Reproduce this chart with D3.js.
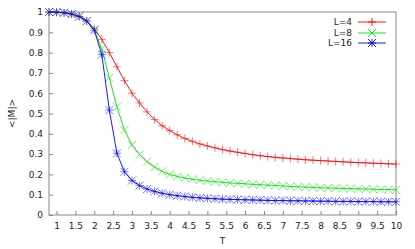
<!DOCTYPE html>
<html>
<head>
<meta charset="utf-8">
<script src="https://cdn.jsdelivr.net/npm/d3@7"></script>
<style>
  body { margin: 0; background: #fff; }
  svg { display: block; }
  text { font-family: "DejaVu Sans", sans-serif; font-size: 9px; fill: #222; }
</style>
</head>
<body>
<svg id="chart" width="415" height="249"></svg>
<script>
// temperatures, 0.8 .. 10 in steps of 0.2
var temps = [0.8, 1.0, 1.2, 1.4, 1.6, 1.8, 2.0, 2.2, 2.4, 2.6, 2.8, 3.0, 3.2, 3.4, 3.6, 3.8,
  4.0, 4.2, 4.4, 4.6, 4.8, 5.0, 5.2, 5.4, 5.6, 5.8, 6.0, 6.2, 6.4, 6.6, 6.8, 7.0, 7.2, 7.4,
  7.6, 7.8, 8.0, 8.2, 8.4, 8.6, 8.8, 9.0, 9.2, 9.4, 9.6, 9.8, 10.0];

var magL4 = [1.0, 0.999, 0.996, 0.99, 0.978, 0.956, 0.918, 0.865, 0.8, 0.73, 0.662, 0.6,
  0.552, 0.508, 0.47, 0.44, 0.416, 0.395, 0.377, 0.363, 0.35, 0.34, 0.331, 0.322, 0.315,
  0.309, 0.303, 0.297, 0.292, 0.288, 0.284, 0.281, 0.278, 0.275, 0.272, 0.27, 0.268,
  0.266, 0.264, 0.262, 0.26, 0.258, 0.257, 0.255, 0.254, 0.252, 0.251];

var magL8 = [1.0, 0.999, 0.996, 0.99, 0.978, 0.956, 0.914, 0.818, 0.676, 0.533, 0.419,
  0.345, 0.298, 0.263, 0.236, 0.215, 0.2, 0.19, 0.182, 0.176, 0.171, 0.167, 0.164, 0.161,
  0.158, 0.156, 0.154, 0.151, 0.149, 0.147, 0.145, 0.143, 0.141, 0.139, 0.137, 0.136,
  0.134, 0.133, 0.132, 0.131, 0.13, 0.129, 0.128, 0.127, 0.126, 0.125, 0.124];

var magL16 = [1.0, 0.999, 0.996, 0.99, 0.978, 0.955, 0.91, 0.79, 0.517, 0.304, 0.213,
  0.17, 0.145, 0.128, 0.116, 0.107, 0.1, 0.095, 0.091, 0.087, 0.084, 0.082, 0.08, 0.078,
  0.077, 0.076, 0.075, 0.074, 0.073, 0.072, 0.071, 0.071, 0.07, 0.07, 0.069, 0.069, 0.068,
  0.068, 0.067, 0.067, 0.067, 0.066, 0.066, 0.066, 0.065, 0.065, 0.065];

var seriesNames = ["L=4", "L=8", "L=16"];
var seriesColors = ["#ff0000", "#00e000", "#0000ff"];
var xTicks = [1, 1.5, 2, 2.5, 3, 3.5, 4, 4.5, 5, 5.5, 6, 6.5, 7, 7.5, 8, 8.5, 9, 9.5, 10];
var yTicks = [0, 0.1, 0.2, 0.3, 0.4, 0.5, 0.6, 0.7, 0.8, 0.9, 1];

var svg = d3.select("#chart");
var plotLeft = 49, plotRight = 396, plotTop = 12, plotBottom = 215;

var x = d3.scaleLinear().domain([0.8, 10]).range([plotLeft, plotRight]);
var y = d3.scaleLinear().domain([0, 1]).range([plotBottom, plotTop]);

// axes with inward ticks
var xAxis = d3.axisBottom(x).tickValues(xTicks).tickSizeInner(-4).tickSizeOuter(0)
  .tickPadding(8).tickFormat(d3.format("~g"));
var gx = svg.append("g").attr("transform", "translate(0," + plotBottom + ")").call(xAxis);

var yAxis = d3.axisLeft(y).tickValues(yTicks).tickSizeInner(-4).tickSizeOuter(0)
  .tickPadding(6).tickFormat(d3.format("~g"));
var gy = svg.append("g").attr("transform", "translate(" + plotLeft + ",0)").call(yAxis);

[gx, gy].forEach(function(g) {
  g.select(".domain").remove();
  g.selectAll("line").attr("stroke", "#888");
  g.selectAll("text").style("font-family", "DejaVu Sans, sans-serif").style("font-size", "9px").attr("fill", "#222");
});

// border box
svg.append("rect")
  .attr("x", plotLeft).attr("y", plotTop)
  .attr("width", plotRight - plotLeft).attr("height", plotBottom - plotTop)
  .attr("fill", "none").attr("stroke", "#888").attr("stroke-width", 1);

// axis titles
svg.append("text")
  .attr("x", (plotLeft + plotRight) / 2).attr("y", 244)
  .attr("text-anchor", "middle")
  .text("T");
svg.append("text")
  .attr("transform", "translate(15," + ((plotTop + plotBottom) / 2) + ") rotate(-90)")
  .attr("text-anchor", "middle")
  .text("<|M|>");

// marker shapes: plus, cross, star
function markerPath(kind, s) {
  var plus = "M" + (-s) + ",0H" + s + "M0," + (-s) + "V" + s;
  var cross = "M" + (-s) + "," + (-s) + "L" + s + "," + s + "M" + (-s) + "," + s + "L" + s + "," + (-s);
  if (kind === 0) return plus;
  if (kind === 1) return cross;
  return plus + cross;
}

var allSeries = [magL4, magL8, magL16];
var line = d3.line()
  .x(function(d, i) { return x(temps[i]); })
  .y(function(d) { return y(d); });

allSeries.forEach(function(vals, k) {
  var g = svg.append("g").attr("class", "series-" + k);
  g.append("path")
    .datum(vals)
    .attr("fill", "none")
    .attr("stroke", seriesColors[k])
    .attr("stroke-width", 0.9)
    .attr("d", line);

  g.selectAll("path.pt")
    .data(vals)
    .enter().append("path")
    .attr("class", "pt")
    .attr("transform", function(d, i) { return "translate(" + x(temps[i]) + "," + y(d) + ")"; })
    .attr("d", markerPath(k, 4))
    .attr("fill", "none")
    .attr("stroke", seriesColors[k])
    .attr("stroke-opacity", 0.6)
    .attr("stroke-width", 0.9);
});

// legend
var legendY = [22, 33, 43];
seriesNames.forEach(function(name, k) {
  var g = svg.append("g").attr("transform", "translate(0," + legendY[k] + ")");
  g.append("text")
    .attr("x", 352).attr("y", 0).attr("dy", "0.35em")
    .attr("text-anchor", "end")
    .text(name);
  g.append("line")
    .attr("x1", 358).attr("x2", 386)
    .attr("stroke", seriesColors[k]).attr("stroke-width", 0.9);
  g.append("path")
    .attr("transform", "translate(372,0)")
    .attr("d", markerPath(k, 4))
    .attr("fill", "none")
    .attr("stroke", seriesColors[k])
    .attr("stroke-width", 0.9);
});
</script>
</body>
</html>
